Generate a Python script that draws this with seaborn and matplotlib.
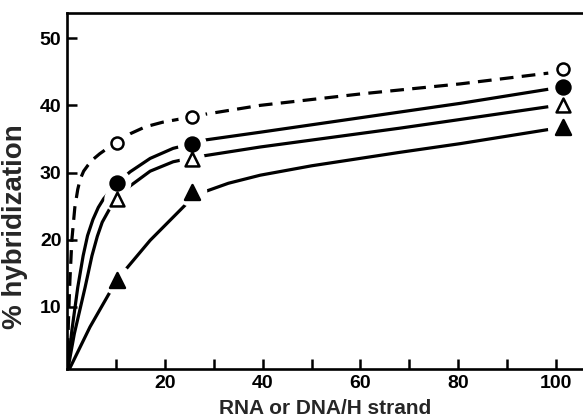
import matplotlib
matplotlib.use("Agg")
import matplotlib.pyplot as plt
import seaborn as sns
import pandas as pd

# ---- data ----
marker_x = [10.2, 25.6, 101.4]
open_circle_y = [34.4, 38.2, 45.4]
filled_circle_y = [28.4, 34.2, 42.7]
open_triangle_y = [26.0, 32.0, 40.0]
filled_triangle_y = [14.0, 27.1, 36.8]

# hand-drawn fitted curves
oc_curve_x = [0, 0.3, 0.6, 1.0, 1.6, 2.2, 2.7, 3.4, 4.3, 5.4, 6.7, 10.2, 13, 16, 19.6, 25.6, 27.6, 39.5, 60, 80.4, 98.4]
oc_curve_y = [0, 8, 14, 20, 24.8, 27.5, 29, 30.2, 31.1, 32.0, 32.8, 34.6, 35.8, 36.8, 37.5, 38.3, 38.6, 40.0, 41.7, 43.2, 44.8]
fc_curve_x = [0, 1.0, 2.2, 3.3, 4.2, 5.3, 6.4, 7.5, 10.2, 12.9, 17, 21.7, 25.6, 27.8, 39.5, 68, 80.4, 98.4]
fc_curve_y = [0, 6.5, 12.9, 17.6, 20.6, 23.0, 24.8, 26.1, 28.4, 30.1, 32.1, 33.6, 34.3, 34.8, 36.0, 39.0, 40.3, 42.4]
ot_curve_x = [0, 1.5, 3.7, 5.1, 6.2, 7.2, 8.8, 10.2, 12.9, 17, 21.7, 25.6, 27.2, 39.5, 68, 80.4, 98.4]
ot_curve_y = [0, 6, 12.9, 17.6, 20.5, 22.6, 24.7, 26.0, 28.0, 30.2, 31.6, 32.2, 32.4, 33.8, 36.6, 37.9, 39.8]
ft_curve_x = [0, 4.7, 10.2, 17, 24.5, 27.6, 33, 39.5, 50, 68, 80.4, 98.4]
ft_curve_y = [0, 7.0, 14.0, 19.9, 25.4, 27.0, 28.4, 29.6, 31.0, 33.0, 34.3, 36.4]

x_ticks = [10, 20, 30, 40, 50, 60, 70, 80, 90, 100]
x_tick_labels = ["", "20", "", "40", "", "60", "", "80", "", "100"]
y_ticks = [10, 20, 30, 40, 50]
y_tick_labels = ["10", "20", "30", "40", "50"]

x_label = "RNA or DNA/H strand"
y_label = "% hybridization"

# ---- plotting ----
sns.set_style("ticks")
plt.rcParams["font.family"] = ["Liberation Sans", "DejaVu Sans"]

W, H = 583, 417
fig = plt.figure(figsize=(W / 100, H / 100), dpi=100)
ax = fig.add_axes([67 / W, 1 - 369 / H, 1 - 67 / W, (369 - 12.7) / H])

lw = 2.3
curves = [
    (oc_curve_x, oc_curve_y, (4.3, 2.6)),
    (fc_curve_x, fc_curve_y, None),
    (ot_curve_x, ot_curve_y, None),
    (ft_curve_x, ft_curve_y, None),
]
for cx, cy, dash in curves:
    df = pd.DataFrame({"x": cx, "y": cy})
    sns.lineplot(data=df, x="x", y="y", color="black", linewidth=lw, sort=False,
                 estimator=None, ax=ax)
    ln = ax.lines[-1]
    if dash is not None:
        ln.set_dashes(dash)
    ln.set_solid_capstyle("butt")
    ln.set_dash_capstyle("butt")
    ln.set_solid_joinstyle("round")
    ln.set_zorder(2)

series = [
    (open_circle_y, "o", "white", 75, 400),
    (filled_circle_y, "o", "black", 100, 430),
    (open_triangle_y, "^", "white", 100, 330),
    (filled_triangle_y, "^", "black", 115, 470),
]
# white halos to create the gaps where lines meet the symbols
for ys, m, fc, s, hs in series:
    dfm = pd.DataFrame({"x": marker_x, "y": ys})
    sns.scatterplot(data=dfm, x="x", y="y", marker="o", s=hs, color="white",
                    edgecolor="none", linewidth=0, ax=ax)
    ax.collections[-1].set_zorder(3)
    ax.collections[-1].set_clip_on(False)
for ys, m, fc, s, hs in series:
    dfm = pd.DataFrame({"x": marker_x, "y": ys})
    sns.scatterplot(data=dfm, x="x", y="y", marker=m, s=s, color=fc,
                    edgecolor="black", linewidth=1.8, ax=ax)
    ax.collections[-1].set_zorder(4)
    ax.collections[-1].set_clip_on(False)

ax.set_xlim(0, 105.5)
ax.set_ylim(0.74, 53.8)
ax.set_xticks(x_ticks)
ax.set_xticklabels(x_tick_labels)
ax.set_yticks(y_ticks)
ax.set_yticklabels(y_tick_labels)
ax.tick_params(axis="both", direction="in", length=7, width=1.8, colors="black",
               labelsize=14, pad=4)
for lab in ax.get_xticklabels() + ax.get_yticklabels():
    lab.set_fontweight("bold")

for side in ["left", "bottom", "top"]:
    ax.spines[side].set_linewidth(1.9)
    ax.spines[side].set_color("black")
ax.spines["right"].set_visible(False)

ax.set_xlabel(x_label, fontsize=15, fontweight="bold", labelpad=5)
ax.set_ylabel(y_label, fontsize=20, fontweight="bold")
ax.yaxis.set_label_coords(-0.0756, 0.3985)

fig.savefig("out.png", dpi=100)
